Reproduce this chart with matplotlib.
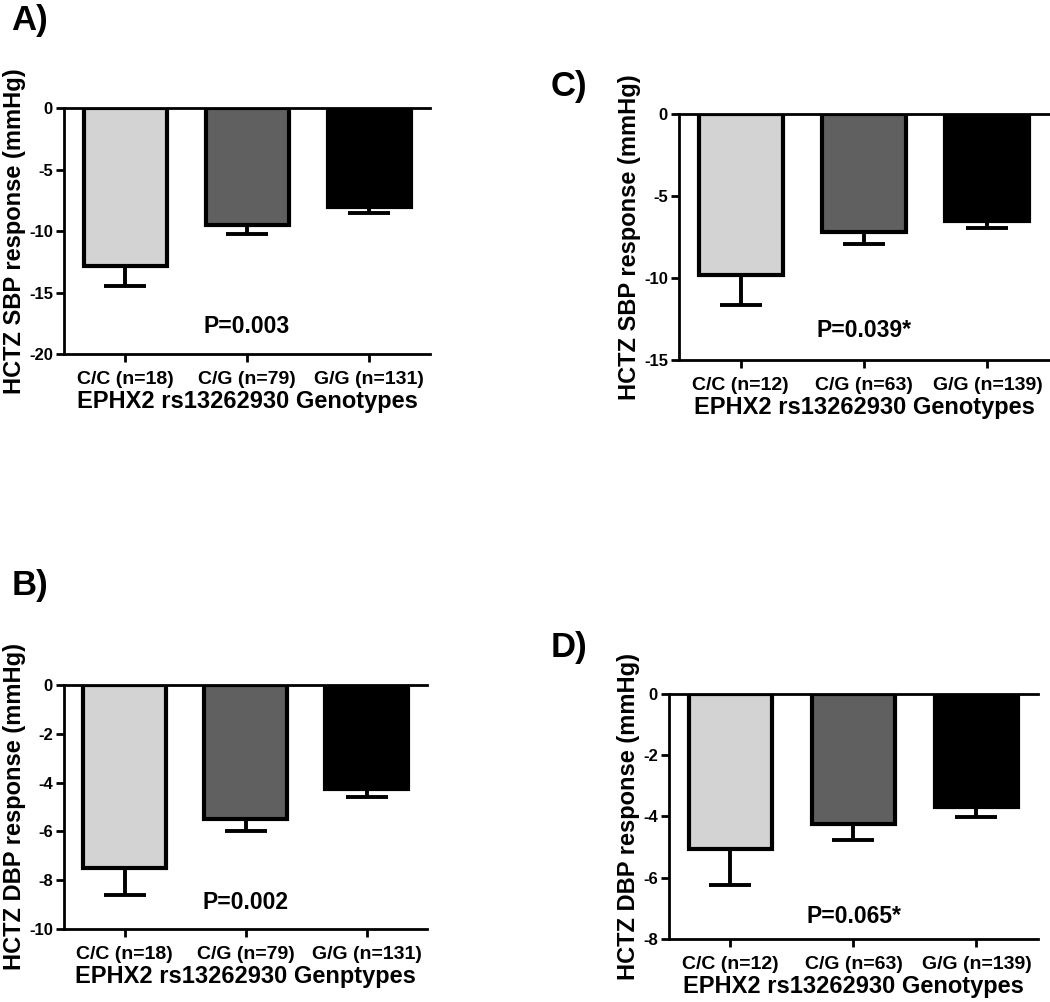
import matplotlib
matplotlib.use("Agg")
import matplotlib.pyplot as plt

# ---------------- Data ----------------
sbp_labels_left = ["C/C (n=18)", "C/G (n=79)", "G/G (n=131)"]
sbp_labels_right = ["C/C (n=12)", "C/G (n=63)", "G/G (n=139)"]

# panel A: SBP, cohort 1
a_means = [-12.85, -9.5, -8.05]
a_sem = [1.6, 0.75, 0.5]
# panel B: DBP, cohort 1
b_means = [-7.5, -5.5, -4.25]
b_sem = [1.1, 0.5, 0.35]
# panel C: SBP, cohort 2
c_means = [-9.8, -7.2, -6.5]
c_sem = [1.85, 0.75, 0.45]
# panel D: DBP, cohort 2
d_means = [-5.05, -4.25, -3.7]
d_sem = [1.2, 0.52, 0.33]

bar_colors = ["#d3d3d3", "#606060", "#000000"]

# ---------------- Style ----------------
plt.rcParams['font.family'] = ['Liberation Sans', 'DejaVu Sans']
plt.rcParams['font.weight'] = 'bold'

fig = plt.figure(figsize=(10.5, 10.02), dpi=100)


def draw_panel(rect, means, sem, labels, ylim, yticks, ylabel, xlabel, ptext, ptext_y, letter, letter_xy):
    ax = fig.add_axes(rect)
    x = range(len(means))
    ax.bar(x, means, width=0.68, color=bar_colors, edgecolor='black', linewidth=3, zorder=2)
    ax.errorbar(x, means, yerr=[sem, [0] * len(sem)], fmt='none', ecolor='black',
                elinewidth=2.8, capsize=15, capthick=2.8, zorder=1)
    ax.set_xlim(-0.5, 2.5)
    ax.set_ylim(*ylim)
    ax.set_yticks(yticks)
    ax.set_yticklabels([str(t) for t in yticks], fontsize=12, fontweight='bold')
    ax.set_xticks(list(x))
    ax.set_xticklabels(labels, fontsize=14, fontweight='bold')
    ax.spines['right'].set_visible(False)
    for s in ['left', 'bottom', 'top']:
        ax.spines[s].set_linewidth(2)
    ax.tick_params(axis='both', direction='out', length=6, width=2)
    ax.tick_params(axis='x', pad=6)
    ax.tick_params(axis='y', pad=2)
    ax.set_ylabel(ylabel, fontsize=17, fontweight='bold', labelpad=2)
    ax.set_xlabel(xlabel, fontsize=17, fontweight='bold', labelpad=2)
    ax.text(1, ptext_y, ptext, ha='center', va='center', fontsize=16.5, fontweight='bold')
    fig.text(letter_xy[0], letter_xy[1], letter, fontsize=25, fontweight='bold', ha='left', va='center')
    return ax


# ---------------- Panels ----------------
draw_panel([0.061, 0.6467, 0.3486, 0.2455], a_means, a_sem, sbp_labels_left,
           (-20, 0), [0, -5, -10, -15, -20], "HCTZ SBP response (mmHg)",
           "EPHX2 rs13262930 Genotypes", "P=0.003", -17.8, "A)", (0.011, 0.980))
draw_panel([0.6467, 0.6407, 0.3524, 0.2455], c_means, c_sem, sbp_labels_right,
           (-15, 0), [0, -5, -10, -15], "HCTZ SBP response (mmHg)",
           "EPHX2 rs13262930 Genotypes", "P=0.039*", -13.2, "C)", (0.524, 0.914))
draw_panel([0.061, 0.0729, 0.3457, 0.2435], b_means, b_sem, sbp_labels_left,
           (-10, 0), [0, -2, -4, -6, -8, -10], "HCTZ DBP response (mmHg)",
           "EPHX2 rs13262930 Genptypes", "P=0.002", -8.93, "B)", (0.011, 0.416))
draw_panel([0.6371, 0.0629, 0.3514, 0.2445], d_means, d_sem, sbp_labels_right,
           (-8, 0), [0, -2, -4, -6, -8], "HCTZ DBP response (mmHg)",
           "EPHX2 rs13262930 Genotypes", "P=0.065*", -7.28, "D)", (0.524, 0.354))

plt.savefig("out.png", dpi=100)
